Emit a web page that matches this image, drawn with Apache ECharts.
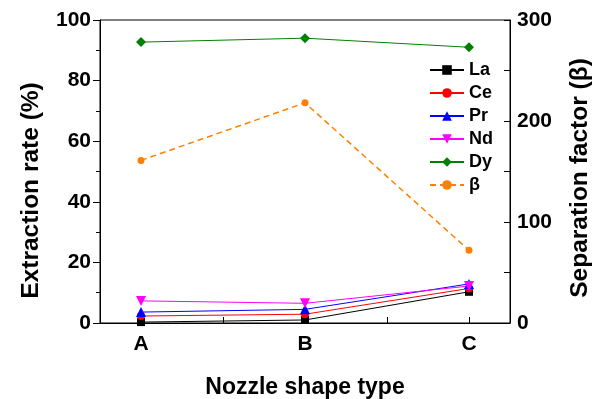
<!DOCTYPE html>
<html>
<head>
<meta charset="utf-8">
<script src="https://cdn.jsdelivr.net/npm/echarts@6/dist/echarts.min.js"></script>
<style>
html, body { margin: 0; padding: 0; background: #fff; }
#chart { width: 603px; height: 399px; }
</style>
</head>
<body>
<div id="chart"></div>
<script>
var categories = ['A', 'B', 'C'];
var laValues = [0.3, 1.0, 10.3];
var ceValues = [2.3, 2.9, 11.4];
var prValues = [3.6, 4.5, 12.9];
var ndValues = [7.3, 6.5, 12.2];
var dyValues = [92.7, 94.0, 91.0];
var betaValues = [161, 218, 72];

var chart = echarts.init(document.getElementById('chart'));
var font = 'Liberation Sans, Arial, sans-serif';

function pts(arr) {
	return arr.map(function (v, i) { return [i, v]; });
}

function lineSeries(name, data, color, symbol, size, extra) {
	var s = {
		name: name,
		type: 'line',
		data: pts(data),
		symbol: symbol,
		symbolSize: size,
		color: color,
		lineStyle: { color: color, width: 1 },
		itemStyle: { color: color },
		animation: false
	};
	for (var k in extra) s[k] = extra[k];
	return s;
}

var option = {
	animation: false,
	grid: {
		left: 100, right: 93, top: 20, bottom: 76,
		outerBoundsMode: 'none',
		containLabel: false,
		show: true, borderColor: '#000', borderWidth: 1
	},
	legend: {
		orient: 'vertical',
		left: 424, top: 56,
		itemWidth: 34, itemHeight: 12, itemGap: 5,
		textStyle: { fontFamily: font, fontWeight: 'bold', fontSize: 18, color: '#000' },
		data: ['La', 'Ce', 'Pr', 'Nd', 'Dy', 'β']
	},
	xAxis: {
		type: 'value',
		min: -0.25, max: 2.25,
		splitLine: { show: false },
		axisLine: { onZero: false, lineStyle: { color: '#000' } },
		axisTick: { inside: true, length: 6, customValues: [0, 0.5, 1, 1.5, 2], lineStyle: { color: '#000' } },
		axisLabel: {
			customValues: [0, 1, 2],
			formatter: function (v) { return categories[Math.round(v)]; },
			fontFamily: font, fontWeight: 'bold', fontSize: 21, color: '#000', margin: 11
		},
		name: 'Nozzle shape type',
		nameLocation: 'middle', nameGap: 53,
		nameTextStyle: { fontFamily: font, fontWeight: 'bold', fontSize: 23, color: '#000' }
	},
	yAxis: [{
		type: 'value', min: 0, max: 100, interval: 20,
		splitLine: { show: false },
		axisLine: { show: true, onZero: false, lineStyle: { color: '#000' } },
		axisTick: { show: true, length: 7, lineStyle: { color: '#000' } },
		minorTick: { show: true, splitNumber: 2, length: 4, lineStyle: { color: '#000' } },
		axisLabel: { fontFamily: font, fontWeight: 'bold', fontSize: 21, color: '#000', margin: 9 },
		name: 'Extraction rate (%)',
		nameLocation: 'middle', nameGap: 56,
		nameTextStyle: { fontFamily: font, fontWeight: 'bold', fontSize: 24.5, color: '#000', padding: [0, 38, 0, 0] }
	}, {
		type: 'value', min: 0, max: 300, interval: 100,
		splitLine: { show: false },
		axisLine: { show: true, onZero: false, lineStyle: { color: '#000' } },
		axisTick: { show: true, inside: true, length: 6, lineStyle: { color: '#000' } },
		minorTick: { show: true, splitNumber: 2, length: 6, lineStyle: { color: '#000' } },
		axisLabel: { fontFamily: font, fontWeight: 'bold', fontSize: 21, color: '#000', margin: 7 },
		name: 'Separation factor (β)',
		nameLocation: 'middle', nameGap: 58,
		nameTextStyle: { fontFamily: font, fontWeight: 'bold', fontSize: 24.5, color: '#000', padding: [0, 13, 0, 0] }
	}],
	series: [
		lineSeries('La', laValues, '#000000', 'rect', 8, {}),
		lineSeries('Ce', ceValues, '#ff0000', 'circle', 8, {}),
		lineSeries('Pr', prValues, '#0000ff', 'triangle', 10, {}),
		lineSeries('Nd', ndValues, '#ff00ff', 'triangle', 10, { symbolRotate: 180 }),
		lineSeries('Dy', dyValues, '#008000', 'diamond', 10, {}),
		lineSeries('β', betaValues, '#ff8000', 'circle', 7, {
			yAxisIndex: 1,
			lineStyle: { color: '#ff8000', width: 1.5, type: [6, 4] }
		})
	]
};
chart.setOption(option);
</script>
</body>
</html>
